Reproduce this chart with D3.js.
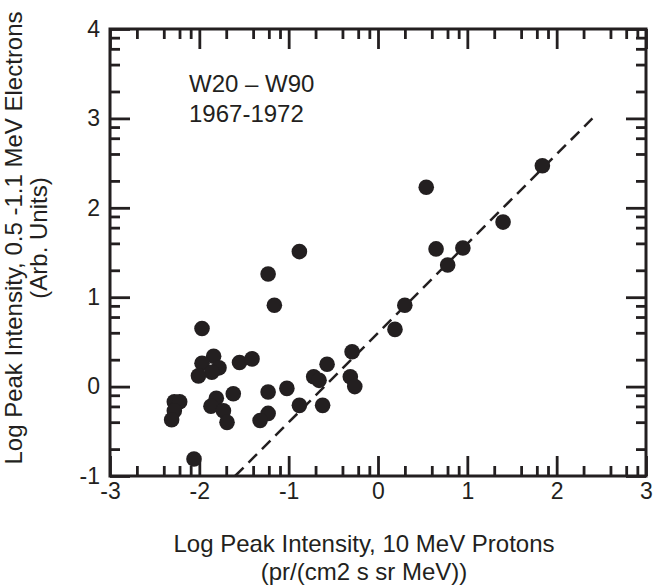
<!DOCTYPE html>
<html lang="en">
<head>
    <meta charset="UTF-8" />
    <script src="https://cdn.jsdelivr.net/npm/d3@7"></script>
    <style>
        body { margin: 0; background: #fff; }
        text { font-family: "Liberation Sans", Arial, sans-serif; fill: #231f20; }
    </style>
</head>
<body>
<svg id="chart" width="655" height="586"></svg>
<script>
    // log peak intensity of 10 MeV protons (x) and 0.5-1.1 MeV electrons (y)
    var protonLog = [-1.97, -1.84, -1.97, -1.78, -1.86, -2.01, -1.55, -1.41,
        -2.28, -2.22, -2.28, -2.31, -1.81, -1.87, -1.62, -1.73, -1.69,
        -1.23, -1.23, -1.32, -2.06, -0.88, -1.23, -1.16,
        -0.29, -0.57, -0.72, -0.66, -0.31, -0.26, -1.02, -0.88, -0.62,
        0.54, 1.40, 0.65, 0.95, 0.78, 0.30, 0.19, 1.84];
    var electronLog = [0.65, 0.34, 0.26, 0.21, 0.16, 0.12, 0.27, 0.31,
        -0.17, -0.17, -0.27, -0.37, -0.13, -0.22, -0.08, -0.27, -0.40,
        -0.06, -0.30, -0.38, -0.81, 1.51, 1.26, 0.91,
        0.39, 0.25, 0.11, 0.07, 0.11, 0.00, -0.02, -0.21, -0.21,
        2.23, 1.84, 1.54, 1.55, 1.36, 0.91, 0.64, 2.47];

    // dashed reference line end points
    var fitX = [-1.6, 2.4];
    var fitY = [-1.0, 3.0];

    var xTicks = [-3, -2, -1, 0, 1, 2, 3];
    var yTicks = [-1, 0, 1, 2, 3, 4];
    var minorSteps = [2, 4, 6, 8];   // log-style minor ticks inside each decade

    var plotLeft = 110, plotRight = 646, plotTop = 29, plotBottom = 476;
    var ink = "#231f20";

    var svg = d3.select("#chart");

    var x = d3.scaleLinear().domain([-3, 3]).range([plotLeft, plotRight]);
    var y = d3.scaleLinear().domain([-1, 4]).range([plotBottom, plotTop]);

    function minors(ticks) {
        var out = [];
        for (var i = 0; i < ticks.length - 1; i++) {
            minorSteps.forEach(function (m) { out.push(ticks[i] + Math.log10(m)); });
        }
        return out;
    }
    var xMinor = minors(xTicks), yMinor = minors(yTicks);
    var plain = function (d) { return String(d); };

    function styleAxis(g) {
        g.select(".domain").remove();
        g.selectAll("line").attr("stroke", ink).attr("stroke-width", 2.8);
        g.selectAll("text").attr("font-size", 23).attr("fill", ink)
            .attr("font-family", "'Liberation Sans', Arial, sans-serif");
    }

    // bottom
    svg.append("g").attr("transform", `translate(0,${plotBottom})`)
        .call(d3.axisBottom(x).tickValues(xTicks).tickSize(-20).tickPadding(7).tickFormat(plain))
        .call(styleAxis);
    svg.append("g").attr("transform", `translate(0,${plotBottom})`)
        .call(d3.axisBottom(x).tickValues(xMinor).tickSize(-10).tickFormat(""))
        .call(styleAxis);
    // top
    svg.append("g").attr("transform", `translate(0,${plotTop})`)
        .call(d3.axisTop(x).tickValues(xTicks).tickSize(-20).tickFormat(""))
        .call(styleAxis);
    svg.append("g").attr("transform", `translate(0,${plotTop})`)
        .call(d3.axisTop(x).tickValues(xMinor).tickSize(-10).tickFormat(""))
        .call(styleAxis);
    // left
    svg.append("g").attr("transform", `translate(${plotLeft},0)`)
        .call(d3.axisLeft(y).tickValues(yTicks).tickSize(-20).tickPadding(10).tickFormat(plain))
        .call(styleAxis);
    svg.append("g").attr("transform", `translate(${plotLeft},0)`)
        .call(d3.axisLeft(y).tickValues(yMinor).tickSize(-10).tickFormat(""))
        .call(styleAxis);
    // right
    svg.append("g").attr("transform", `translate(${plotRight},0)`)
        .call(d3.axisRight(y).tickValues(yTicks).tickSize(-20).tickFormat(""))
        .call(styleAxis);
    svg.append("g").attr("transform", `translate(${plotRight},0)`)
        .call(d3.axisRight(y).tickValues(yMinor).tickSize(-10).tickFormat(""))
        .call(styleAxis);

    // frame
    svg.append("rect")
        .attr("x", plotLeft).attr("y", plotTop)
        .attr("width", plotRight - plotLeft).attr("height", plotBottom - plotTop)
        .attr("fill", "none").attr("stroke", ink).attr("stroke-width", 3);

    // dashed line
    svg.append("line")
        .attr("x1", x(fitX[0])).attr("y1", y(fitY[0]))
        .attr("x2", x(fitX[1])).attr("y2", y(fitY[1]))
        .attr("stroke", ink).attr("stroke-width", 2.5)
        .attr("stroke-dasharray", "12,7");

    // points
    svg.append("g").selectAll("circle")
        .data(protonLog)
        .enter().append("circle")
        .attr("cx", function (d) { return x(d); })
        .attr("cy", function (d, i) { return y(electronLog[i]); })
        .attr("r", 7.8)
        .attr("fill", ink);

    // annotation
    var note = svg.append("text").attr("font-size", 24);
    note.append("tspan").attr("x", 189).attr("y", 92).text("W20 \u2013 W90");
    note.append("tspan").attr("x", 189).attr("y", 122).text("1967-1972");

    // axis titles
    svg.append("text").attr("x", 364).attr("y", 552).attr("text-anchor", "middle")
        .attr("font-size", 24).text("Log Peak Intensity, 10 MeV Protons");
    svg.append("text").attr("x", 364).attr("y", 580).attr("text-anchor", "middle")
        .attr("font-size", 24).text("(pr/(cm2 s sr MeV))");

    var yTitle = svg.append("g").attr("transform", "translate(22,238) rotate(-90)");
    yTitle.append("text").attr("text-anchor", "middle").attr("font-size", 24)
        .text("Log Peak Intensity, 0.5 -1.1 MeV Electrons");
    yTitle.append("text").attr("y", 25).attr("text-anchor", "middle").attr("font-size", 24)
        .text("(Arb. Units)");
</script>
</body>
</html>
